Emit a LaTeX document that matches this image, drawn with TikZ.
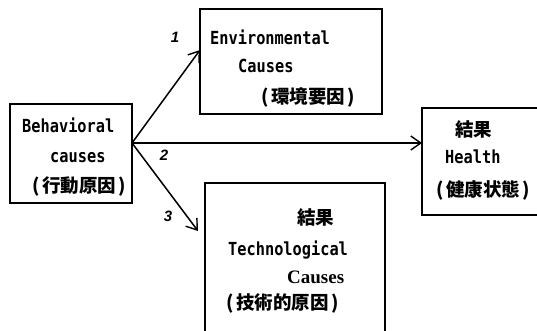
\documentclass[tikz,border=0pt]{standalone}
\usepackage{fontspec}
\usepackage{tikz}
\usetikzlibrary{arrows.meta}
\newfontfamily\jpfont{Noto Sans CJK JP}
\newfontfamily\monofont{DejaVu Sans Mono}[FakeStretch=0.85]
\newfontfamily\causefont{Liberation Serif}
\newfontfamily\numfont{Liberation Sans}
\tikzstyle{box}=[draw, line width=1.2pt, inner sep=0, outer sep=0]
\tikzstyle{lat}=[inner sep=0, anchor=base west, font=\monofont\bfseries\fontsize{18}{20}\selectfont]
\tikzstyle{jp}=[inner sep=0, anchor=base west, font=\jpfont\bfseries\fontsize{18.5}{20}\selectfont]
\tikzstyle{num}=[inner sep=0, font=\numfont\bfseries\itshape\fontsize{15}{16}\selectfont]
\tikzstyle{link}=[line width=1.5pt, -{Straight Barb[length=10pt, width=14pt, line width=1.4pt]}]
\newcommand{\pk}{\kern2.5pt}

\begin{document}
\begin{tikzpicture}[x=1pt, y=-1pt]
        \useasboundingbox (0,0) rectangle (537,331);
        % the four boxes
        \node[box, minimum width=122pt, minimum height=99pt] (behav) at (71, 153.5) {};
        \node[box, minimum width=182pt, minimum height=105pt] (env) at (291, 61.5) {};
        \node[box, minimum width=123pt, minimum height=107pt] (health) at (483.5, 161.5) {};
        \node[box, minimum width=180pt, minimum height=153pt] (tech) at (295, 259.5) {};
        % texts
        \node[lat] (behav1) at (22, 132) {Behavioral};
        \node[lat] (behav2) at (50, 162) {causes};
        \node[jp] (behav3) at (32, 192) {(\pk 行動原因\pk)};
        \node[lat] (env1) at (210, 45) {Environmental};
        \node[lat] (env2) at (238, 73) {Causes};
        \node[jp] (env3) at (261, 104) {(\pk 環境要因\pk)};
        \node[jp] (health1) at (455, 136) {結果};
        \node[lat] (health2) at (445, 163) {Health};
        \node[jp] (health3) at (436, 196) {(\pk 健康状態\pk)};
        \node[jp] (tech1) at (297, 224) {結果};
        \node[lat] (tech2) at (228, 255) {Technological};
        \node[lat, font=\causefont\bfseries\fontsize{19}{20}\selectfont] (tech3) at (287, 283) {Causes};
        \node[jp] (tech4) at (226, 309) {(\pk 技術的原因\pk)};
        % arrows
        \coordinate (fork) at (behav.east |- 0, 143);
        \draw[link] (fork) -- ([yshift=11.5pt]env.west);
        \draw[link] (fork) -- (fork -| health.west);
        \draw[link] (fork) -- ([xshift=-7pt, yshift=28.5pt]tech.west);
        \node[num] (n1) at (175, 37) {1};
        \node[num] (n2) at (164, 155) {2};
        \node[num] (n3) at (168, 216) {3};
\end{tikzpicture}
\end{document}
